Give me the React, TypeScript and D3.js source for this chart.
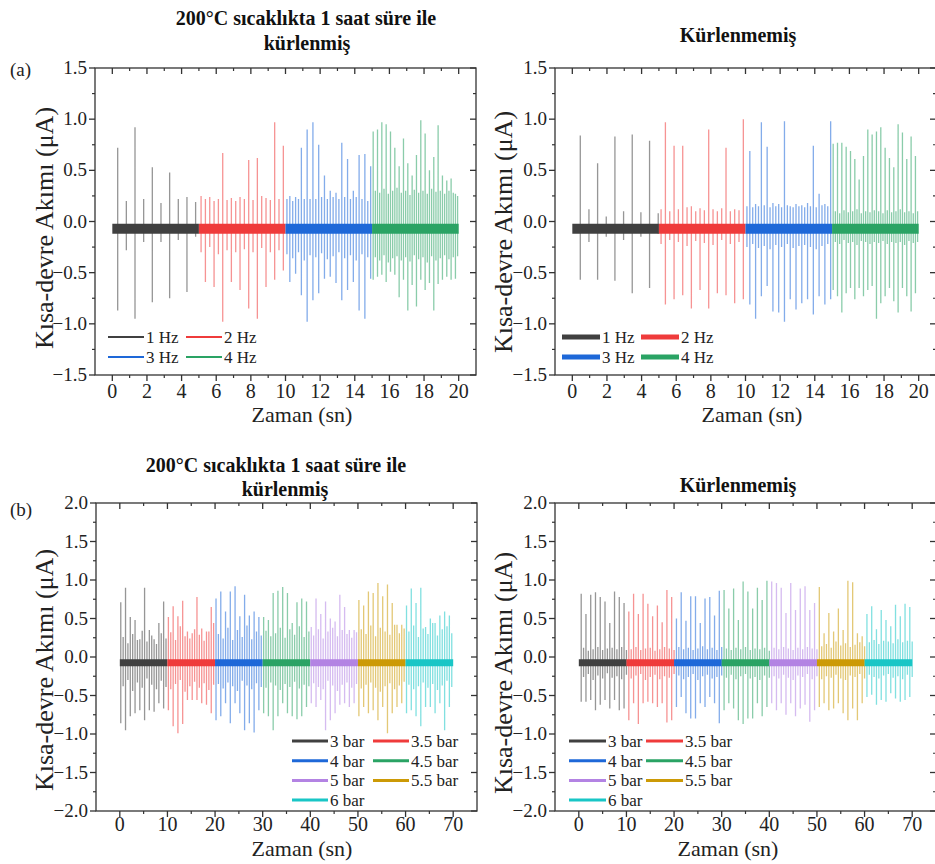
import * as d3 from "d3";
import React from "react";

// ---------- data ----------
const hzLabels = ["1 Hz", "2 Hz", "3 Hz", "4 Hz"];
const hzColors = ["#404040", "#ef3b3b", "#1e68d8", "#2aa364"];
const hzStarts = [0, 5, 10, 15];
const hzEnds = [5, 10, 15, 20];

const barLabels = ["3 bar", "3.5 bar", "4 bar", "4.5 bar", "5 bar", "5.5 bar", "6 bar"];
const barColors = ["#404040", "#ef3b3b", "#1e68d8", "#2aa364", "#b383e3", "#cc9a06", "#19c6c6"];
const barStarts = [0, 10, 20, 30, 40, 50, 60];
const barEnds = [10, 20, 30, 40, 50, 60, 70];

const hzXTicks = [0, 2, 4, 6, 8, 10, 12, 14, 16, 18, 20];
const hzYTicks = [-1.5, -1.0, -0.5, 0.0, 0.5, 1.0, 1.5];
const barXTicks = [0, 10, 20, 30, 40, 50, 60, 70];
const barYTicks = [-2.0, -1.5, -1.0, -0.5, 0.0, 0.5, 1.0, 1.5, 2.0];

const hzBaseline = -0.07;
const barBaseline = -0.075;

// (a) cured, peak values of every pulse
const curedHzPos = [
  [0.72, 0.2, 0.92, 0.22, 0.53, 0.18, 0.48, 0.22, 0.24, 0.19],
  [0.25, 0.22, 0.24, 0.2, 0.22, 0.67, 0.21, 0.23, 0.2, 0.24, 0.22, 0.6, 0.21, 0.62, 0.25, 0.23, 0.21, 0.97, 0.22, 0.74],
  [0.22, 0.25, 0.2, 0.24, 0.22, 0.72, 0.22, 0.9, 0.22, 0.97, 0.22, 0.75, 0.24, 0.45, 0.22, 0.3, 0.24, 0.28, 0.22, 0.77,
    0.24, 0.61, 0.22, 0.3, 0.24, 0.65, 0.22, 0.66, 0.2, 0.54],
  [0.88, 0.3, 0.9, 0.28, 0.97, 0.32, 0.95, 0.27, 0.88, 0.3, 0.72, 0.33, 0.54, 0.28, 0.81, 0.3, 0.57, 0.26, 0.45, 0.31,
    0.65, 0.28, 0.99, 0.3, 0.86, 0.27, 0.5, 0.32, 0.63, 0.29, 0.94, 0.3, 0.45, 0.27, 0.4, 0.3, 0.42, 0.28, 0.27, 0.25],
];
const curedHzNeg = [
  [-0.87, -0.28, -0.95, -0.2, -0.79, -0.2, -0.75, -0.18, -0.69, -0.15],
  [-0.3, -0.59, -0.25, -0.64, -0.32, -0.98, -0.28, -0.59, -0.3, -0.67, -0.27, -0.85, -0.3, -0.95, -0.26, -0.64, -0.3, -0.57, -0.28, -0.48],
  [-0.32, -0.59, -0.36, -0.51, -0.3, -0.72, -0.38, -0.98, -0.33, -0.77, -0.35, -0.7, -0.31, -0.56, -0.37, -0.54, -0.34, -0.6, -0.3, -0.77,
    -0.36, -0.67, -0.33, -0.59, -0.38, -0.87, -0.32, -0.95, -0.35, -0.56],
  [-0.57, -0.35, -0.54, -0.38, -0.52, -0.33, -0.59, -0.4, -0.49, -0.36, -0.52, -0.34, -0.74, -0.38, -0.57, -0.35, -0.87, -0.39, -0.62, -0.33,
    -0.83, -0.37, -0.57, -0.35, -0.67, -0.4, -0.6, -0.34, -0.87, -0.38, -0.61, -0.36, -0.57, -0.33, -0.54, -0.37, -0.57, -0.35, -0.56, -0.34],
];

// (a) uncured
const rawHzPos = [
  [0.84, 0.12, 0.57, 0.05, 0.83, 0.1, 0.85, 0.09, 0.79, 0.08],
  [0.12, 0.97, 0.1, 0.74, 0.12, 0.74, 0.14, 0.15, 0.1, 0.13, 0.11, 0.9, 0.12, 0.1, 0.13, 0.72, 0.1, 0.12, 0.11, 1.0],
  [0.15, 0.69, 0.14, 0.17, 0.15, 0.97, 0.16, 0.73, 0.14, 0.18, 0.15, 0.17, 0.14, 0.98, 0.16, 0.15, 0.14, 0.17, 0.15, 0.16,
    0.14, 0.18, 0.15, 0.74, 0.14, 0.27, 0.16, 0.17, 0.15, 0.98],
  [0.76, 0.1, 0.77, 0.08, 0.77, 0.11, 0.73, 0.09, 0.69, 0.1, 0.61, 0.12, 0.41, 0.08, 0.64, 0.1, 0.9, 0.09, 0.85, 0.11,
    0.88, 0.1, 0.92, 0.08, 0.72, 0.11, 0.62, 0.09, 0.53, 0.1, 0.95, 0.12, 0.87, 0.09, 0.61, 0.1, 0.83, 0.08, 0.64, 0.1],
];
const rawHzNeg = [
  [-0.57, -0.2, -0.57, -0.15, -0.58, -0.18, -0.7, -0.15, -0.65, -0.12],
  [-0.22, -0.81, -0.18, -0.76, -0.2, -0.72, -0.24, -0.85, -0.19, -0.67, -0.21, -0.85, -0.23, -0.7, -0.18, -0.72, -0.22, -0.8, -0.2, -0.76],
  [-0.25, -0.81, -0.22, -0.95, -0.26, -0.73, -0.24, -0.63, -0.27, -0.88, -0.23, -0.89, -0.25, -0.98, -0.22, -0.76, -0.26, -0.86, -0.24, -0.8,
    -0.23, -0.76, -0.25, -0.91, -0.27, -0.73, -0.24, -0.81, -0.22, -0.76],
  [-0.67, -0.2, -0.73, -0.22, -0.89, -0.18, -0.7, -0.21, -0.65, -0.2, -0.76, -0.23, -0.65, -0.19, -0.73, -0.2, -0.67, -0.22, -0.63, -0.2,
    -0.95, -0.21, -0.8, -0.19, -0.73, -0.22, -0.65, -0.2, -0.78, -0.21, -0.89, -0.2, -0.65, -0.23, -0.73, -0.19, -0.88, -0.21, -0.7, -0.2],
];

// (b) cured: large pulses and the small ones between them
const curedBarTallPos = [
  [0.71, 0.9, 0.52, 0.48, 0.23, 0.9, 0.35, 0.23, 0.44, 0.72],
  [0.52, 0.66, 0.53, 0.73, 0.33, 0.31, 0.78, 0.37, 0.33, 0.65],
  [0.76, 0.85, 0.59, 0.85, 0.92, 0.53, 0.81, 0.54, 0.59, 0.52],
  [0.52, 0.48, 0.83, 0.86, 0.91, 0.83, 0.44, 0.71, 0.76, 0.72],
  [0.39, 0.76, 0.56, 0.72, 0.5, 0.46, 0.81, 0.65, 0.35, 0.35],
  [0.74, 0.67, 0.85, 0.83, 0.96, 0.79, 0.94, 0.7, 0.42, 0.42],
  [0.67, 0.89, 0.7, 0.9, 0.39, 0.5, 0.44, 0.54, 0.59, 0.54],
];
const curedBarSmallPos = [
  [0.26, 0.18, 0.3, 0.22, 0.34, 0.2, 0.28, 0.17, 0.31, 0.24],
  [0.32, 0.22, 0.4, 0.27, 0.24, 0.36, 0.29, 0.21, 0.33, 0.44],
  [0.3, 0.24, 0.38, 0.22, 0.35, 0.26, 0.41, 0.23, 0.33, 0.28],
  [0.34, 0.27, 0.31, 0.38, 0.25, 0.36, 0.29, 0.4, 0.26, 0.33],
  [0.28, 0.36, 0.24, 0.33, 0.38, 0.27, 0.35, 0.3, 0.25, 0.32],
  [0.36, 0.3, 0.41, 0.27, 0.38, 0.33, 0.29, 0.42, 0.31, 0.37],
  [0.33, 0.41, 0.26, 0.37, 0.3, 0.44, 0.28, 0.36, 0.4, 0.31],
];
const curedBarTallNeg = [
  [-0.86, -0.95, -0.77, -0.73, -0.69, -0.82, -0.69, -0.71, -0.6, -0.67],
  [-0.69, -0.9, -0.99, -0.87, -0.56, -0.56, -0.56, -0.6, -0.62, -0.73],
  [-0.82, -0.77, -0.6, -0.86, -0.6, -0.73, -0.95, -0.86, -0.98, -0.69],
  [-0.73, -0.77, -0.95, -0.77, -0.6, -0.73, -0.77, -0.81, -0.77, -0.65],
  [-0.6, -0.65, -0.56, -0.95, -0.82, -0.73, -0.62, -0.6, -0.65, -0.6],
  [-0.77, -0.65, -0.73, -0.69, -0.82, -0.65, -0.99, -0.73, -0.65, -0.6],
  [-0.73, -0.69, -0.77, -0.9, -0.65, -0.65, -0.73, -0.6, -0.95, -0.65],
];
const curedBarSmallNeg = [
  [-0.38, -0.3, -0.44, -0.33, -0.4, -0.28, -0.36, -0.42, -0.31, -0.39],
  [-0.42, -0.35, -0.3, -0.45, -0.38, -0.32, -0.4, -0.34, -0.43, -0.36],
  [-0.35, -0.41, -0.33, -0.38, -0.44, -0.31, -0.37, -0.42, -0.34, -0.39],
  [-0.4, -0.33, -0.37, -0.43, -0.35, -0.39, -0.32, -0.41, -0.36, -0.38],
  [-0.34, -0.39, -0.42, -0.31, -0.37, -0.44, -0.36, -0.33, -0.4, -0.35],
  [-0.41, -0.36, -0.33, -0.4, -0.45, -0.38, -0.34, -0.42, -0.37, -0.32],
  [-0.36, -0.42, -0.38, -0.33, -0.4, -0.35, -0.43, -0.37, -0.31, -0.39],
];

// (b) uncured
const rawBarTallPos = [
  [0.82, 0.56, 0.81, 0.84, 0.78, 0.72, 0.44, 0.85, 0.78, 0.7],
  [0.59, 0.82, 0.56, 0.82, 0.69, 0.53, 0.67, 0.45, 0.87, 0.78],
  [0.5, 0.84, 0.47, 0.79, 0.79, 0.44, 0.76, 0.78, 0.54, 0.86],
  [0.87, 0.63, 0.89, 0.48, 0.98, 0.85, 0.63, 0.9, 0.74, 0.99],
  [0.98, 0.96, 0.9, 0.57, 0.96, 0.61, 0.89, 0.92, 0.61, 0.7],
  [0.91, 0.31, 0.57, 0.33, 0.63, 0.35, 0.99, 0.97, 0.31, 0.27],
  [0.56, 0.66, 0.36, 0.61, 0.48, 0.4, 0.68, 0.53, 0.69, 0.65],
];
const rawBarSmallPos = [
  [0.12, 0.08, 0.1, 0.13, 0.09, 0.11, 0.12, 0.1, 0.13, 0.09],
  [0.1, 0.13, 0.09, 0.11, 0.12, 0.08, 0.1, 0.13, 0.11, 0.09],
  [0.13, 0.1, 0.12, 0.09, 0.11, 0.14, 0.1, 0.12, 0.09, 0.13],
  [0.11, 0.09, 0.12, 0.1, 0.13, 0.09, 0.11, 0.1, 0.12, 0.08],
  [0.12, 0.1, 0.13, 0.11, 0.09, 0.12, 0.1, 0.13, 0.11, 0.1],
  [0.14, 0.17, 0.12, 0.2, 0.15, 0.18, 0.13, 0.16, 0.19, 0.14],
  [0.19, 0.22, 0.17, 0.21, 0.2, 0.18, 0.23, 0.19, 0.21, 0.2],
];
const rawBarTallNeg = [
  [-0.58, -0.58, -0.56, -0.69, -0.62, -0.56, -0.67, -0.56, -0.69, -0.67],
  [-0.82, -0.6, -0.87, -0.6, -0.58, -0.6, -0.65, -0.6, -0.85, -0.82],
  [-0.65, -0.52, -0.73, -0.8, -0.8, -0.6, -0.65, -0.52, -0.6, -0.86],
  [-0.69, -0.6, -0.67, -0.82, -0.87, -0.8, -0.8, -0.6, -0.77, -0.65],
  [-0.6, -0.69, -0.6, -0.75, -0.6, -0.77, -0.67, -0.62, -0.84, -0.69],
  [-0.65, -0.6, -0.69, -0.67, -0.6, -0.73, -0.82, -0.67, -0.82, -0.6],
  [-0.52, -0.49, -0.62, -0.56, -0.58, -0.47, -0.54, -0.58, -0.56, -0.52],
];
const rawBarSmallNeg = [
  [-0.26, -0.22, -0.3, -0.24, -0.28, -0.21, -0.27, -0.25, -0.29, -0.23],
  [-0.28, -0.24, -0.22, -0.3, -0.26, -0.23, -0.29, -0.25, -0.27, -0.22],
  [-0.24, -0.29, -0.26, -0.22, -0.3, -0.25, -0.23, -0.28, -0.26, -0.24],
  [-0.27, -0.23, -0.29, -0.25, -0.22, -0.28, -0.26, -0.3, -0.24, -0.27],
  [-0.25, -0.28, -0.23, -0.27, -0.3, -0.24, -0.26, -0.22, -0.29, -0.25],
  [-0.29, -0.25, -0.27, -0.23, -0.28, -0.3, -0.24, -0.26, -0.22, -0.28],
  [-0.23, -0.26, -0.28, -0.24, -0.22, -0.27, -0.25, -0.29, -0.23, -0.26],
];

// ---------- helpers ----------
type Seg = { label: string; color: string; start: number; end: number; phase: number; pos: number[]; neg: number[] };

const interleave = (a: number[], b: number[]) => a.flatMap((v, i) => [v, b[i]]);

function makeSegs(labels: string[], colors: string[], starts: number[], ends: number[],
  phase: number, pos: number[][], neg: number[][]): Seg[] {
  return labels.map((label, i) => ({
    label, color: colors[i], start: starts[i], end: ends[i], phase, pos: pos[i], neg: neg[i],
  }));
}

const SERIF = "'Liberation Serif', 'Times New Roman', serif";
const AXIS = "#333";

type PanelProps = {
  left: number; right: number; top: number; bottom: number;
  xDomain: [number, number]; yDomain: [number, number];
  xTicks: number[]; yTicks: number[];
  segs: Seg[]; base: number; bandW: number;
  legend: { x1: number; x2: number; y: number; rowH: number; lineLen: number; lineW: number };
  yLabelX: number; yLabelY: number; xLabelX: number; xLabelY: number; xTickY: number;
};

function Panel(p: PanelProps) {
  const x = d3.scaleLinear().domain(p.xDomain).range([p.left, p.right]);
  const y = d3.scaleLinear().domain(p.yDomain).range([p.bottom, p.top]);
  const xs = p.xTicks[1] - p.xTicks[0];
  const ys = p.yTicks[1] - p.yTicks[0];
  const xMinor = p.xTicks.slice(0, -1).map((t) => t + xs / 2);
  const yMinor = p.yTicks.slice(0, -1).map((t) => t + ys / 2);
  const fy = d3.format(".1f");

  // one vertical stroke per pulse, from its negative peak to its positive peak
  const spikePath = (s: Seg) => {
    const n = s.pos.length;
    const dt = (s.end - s.start) / n;
    const path = d3.path();
    s.pos.forEach((v, i) => {
      const t = s.start + (i + s.phase) * dt;
      path.moveTo(x(t), y(s.neg[i]));
      path.lineTo(x(t), y(v));
    });
    return path.toString();
  };

  return (
    <g>
      {p.segs.map((s) => (
        <g key={s.label}>
          <path d={spikePath(s)} stroke={s.color} strokeWidth={1.3} strokeOpacity={0.55} fill="none" />
          <line x1={x(s.start)} x2={x(s.end)} y1={y(p.base)} y2={y(p.base)} stroke={s.color} strokeWidth={p.bandW} />
        </g>
      ))}
      <rect x={p.left} y={p.top} width={p.right - p.left} height={p.bottom - p.top} fill="none" stroke={AXIS} strokeWidth={1.3} />
      {p.xTicks.map((t) => (
        <g key={"xt" + t}>
          <line x1={x(t)} x2={x(t)} y1={p.bottom} y2={p.bottom + 6} stroke={AXIS} strokeWidth={1.3} />
          <line x1={x(t)} x2={x(t)} y1={p.top} y2={p.top + 6} stroke={AXIS} strokeWidth={1.3} />
          <text x={x(t)} y={p.xTickY} textAnchor="middle" fontSize={20} fontFamily={SERIF} fill="#222">{t}</text>
        </g>
      ))}
      {xMinor.map((t) => (
        <g key={"xm" + t}>
          <line x1={x(t)} x2={x(t)} y1={p.bottom} y2={p.bottom + 3} stroke={AXIS} strokeWidth={1.2} />
          <line x1={x(t)} x2={x(t)} y1={p.top} y2={p.top + 3} stroke={AXIS} strokeWidth={1.2} />
        </g>
      ))}
      {p.yTicks.map((t) => (
        <g key={"yt" + t}>
          <line x1={p.left - 6} x2={p.left} y1={y(t)} y2={y(t)} stroke={AXIS} strokeWidth={1.3} />
          <line x1={p.right - 6} x2={p.right} y1={y(t)} y2={y(t)} stroke={AXIS} strokeWidth={1.3} />
          <text x={p.left - 8} y={y(t) + 6} textAnchor="end" fontSize={19} fontFamily={SERIF} fill="#222">{fy(t)}</text>
        </g>
      ))}
      {yMinor.map((t) => (
        <g key={"ym" + t}>
          <line x1={p.left - 3} x2={p.left} y1={y(t)} y2={y(t)} stroke={AXIS} strokeWidth={1.2} />
          <line x1={p.right - 3} x2={p.right} y1={y(t)} y2={y(t)} stroke={AXIS} strokeWidth={1.2} />
        </g>
      ))}
      <text x={p.xLabelX} y={p.xLabelY} textAnchor="middle" fontSize={22} fontFamily={SERIF} fill="#222">Zaman (sn)</text>
      <text transform={`translate(${p.yLabelX},${p.yLabelY}) rotate(-90)`} textAnchor="middle" fontSize={26}
        fontFamily={SERIF} fill="#222">Kısa-devre Akımı (μA)</text>
      {p.segs.map((s, i) => {
        const lx = i % 2 === 0 ? p.legend.x1 : p.legend.x2;
        const ly = p.legend.y + Math.floor(i / 2) * p.legend.rowH;
        return (
          <g key={"lg" + s.label}>
            <line x1={lx} x2={lx + p.legend.lineLen} y1={ly} y2={ly} stroke={s.color} strokeWidth={p.legend.lineW} />
            <text x={lx + p.legend.lineLen + 2} y={ly + 6} fontSize={17} fontFamily={SERIF} fill="#222">{s.label}</text>
          </g>
        );
      })}
    </g>
  );
}

export default function App() {
  const curedHz = makeSegs(hzLabels, hzColors, hzStarts, hzEnds, 0.5, curedHzPos, curedHzNeg);
  curedHz[0].phase = 0.62;
  const rawHz = makeSegs(hzLabels, hzColors, hzStarts, hzEnds, 0.5, rawHzPos, rawHzNeg);
  rawHz[0].phase = 0.92;
  const curedBar = makeSegs(barLabels, barColors, barStarts, barEnds, 0.4,
    curedBarTallPos.map((a, i) => interleave(a, curedBarSmallPos[i])),
    curedBarTallNeg.map((a, i) => interleave(a, curedBarSmallNeg[i])));
  const rawBar = makeSegs(barLabels, barColors, barStarts, barEnds, 1.0,
    rawBarTallPos.map((a, i) => interleave(a, rawBarSmallPos[i])),
    rawBarTallNeg.map((a, i) => interleave(a, rawBarSmallNeg[i])));

  const titleStyle = { fontFamily: SERIF, fontWeight: 700, fontSize: 20, fill: "#111" } as const;

  return (
    <svg width={935} height={864} style={{ position: "absolute", left: 0, top: 0, background: "#fff" }}>
      <rect width={935} height={864} fill="#fff" />
      <text x={10} y={76} fontSize={19} fontFamily={SERIF} fill="#222">(a)</text>
      <text x={10} y={516} fontSize={19} fontFamily={SERIF} fill="#222">(b)</text>

      <text x={306} y={25} textAnchor="middle" style={titleStyle}>200°C sıcaklıkta 1 saat süre ile</text>
      <text x={307} y={50} textAnchor="middle" style={titleStyle}>kürlenmiş</text>
      <text x={738} y={42} textAnchor="middle" style={titleStyle}>Kürlenmemiş</text>
      <text x={276} y={472} textAnchor="middle" style={titleStyle}>200°C sıcaklıkta 1 saat süre ile</text>
      <text x={285} y={496} textAnchor="middle" style={titleStyle}>kürlenmiş</text>
      <text x={738} y={492} textAnchor="middle" style={titleStyle}>Kürlenmemiş</text>

      <Panel left={95} right={476} top={68} bottom={375} xDomain={[-1, 21]} yDomain={[-1.5, 1.5]}
        xTicks={hzXTicks} yTicks={hzYTicks} segs={curedHz} base={hzBaseline} bandW={10}
        legend={{ x1: 108, x2: 186, y: 337, rowH: 20, lineLen: 36, lineW: 2.2 }}
        yLabelX={53} yLabelY={228} xLabelX={302} xLabelY={422} xTickY={398} />
      <Panel left={555} right={936} top={68} bottom={375} xDomain={[-1, 21]} yDomain={[-1.5, 1.5]}
        xTicks={hzXTicks} yTicks={hzYTicks} segs={rawHz} base={hzBaseline} bandW={10}
        legend={{ x1: 562, x2: 641, y: 337, rowH: 20, lineLen: 38, lineW: 5 }}
        yLabelX={512} yLabelY={232} xLabelX={752} xLabelY={422} xTickY={398} />
      <Panel left={96} right={477} top={503} bottom={811} xDomain={[-5, 75]} yDomain={[-2, 2]}
        xTicks={barXTicks} yTicks={barYTicks} segs={curedBar} base={barBaseline} bandW={7}
        legend={{ x1: 292, x2: 373, y: 741, rowH: 19.7, lineLen: 36, lineW: 3 }}
        yLabelX={53} yLabelY={670} xLabelX={302} xLabelY={856} xTickY={831} />
      <Panel left={555} right={936} top={503} bottom={811} xDomain={[-5, 75]} yDomain={[-2, 2]}
        xTicks={barXTicks} yTicks={barYTicks} segs={rawBar} base={barBaseline} bandW={7}
        legend={{ x1: 569, x2: 646, y: 741, rowH: 19.7, lineLen: 37, lineW: 3 }}
        yLabelX={512} yLabelY={673} xLabelX={728} xLabelY={856} xTickY={831} />
    </svg>
  );
}
